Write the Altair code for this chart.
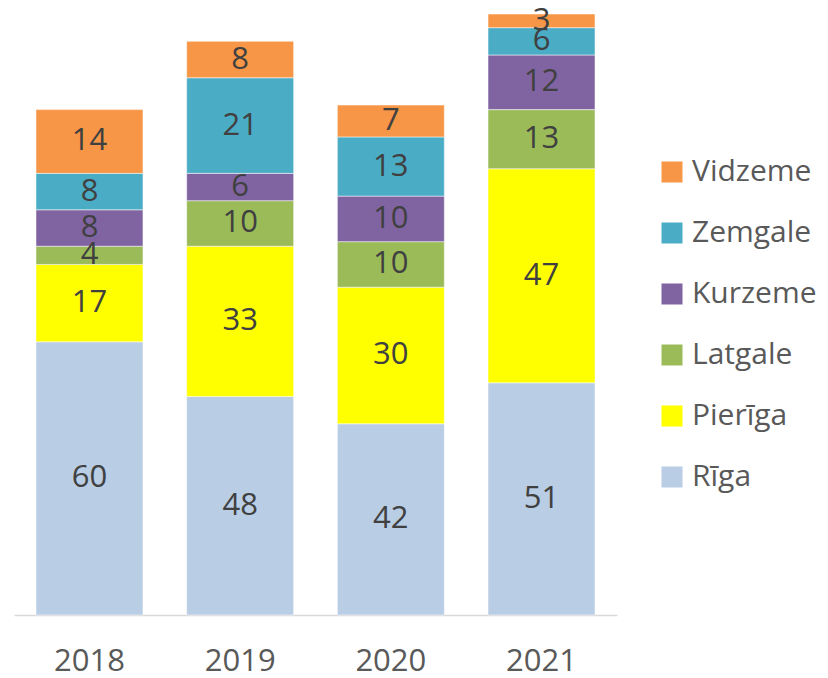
import altair as alt
import pandas as pd

years = ["2018", "2019", "2020", "2021"]
regions = ["Rīga", "Pierīga", "Latgale", "Kurzeme", "Zemgale", "Vidzeme"]
riga = [60, 48, 42, 51]
pieriga = [17, 33, 30, 47]
latgale = [4, 10, 10, 13]
kurzeme = [8, 6, 10, 12]
zemgale = [8, 21, 13, 6]
vidzeme = [14, 8, 7, 3]
colors = ["#B9CDE5", "#FFFF00", "#9BBB59", "#8064A2", "#4BACC6", "#F79646"]

series = [riga, pieriga, latgale, kurzeme, zemgale, vidzeme]
rows = []
for k, (reg, vals) in enumerate(zip(regions, series)):
    for y, v in zip(years, vals):
        rows.append({"year": y, "region": reg, "value": v, "ord": k})
df = pd.DataFrame(rows)

FONT = "Open Sans"
legend_domain = regions[::-1]
legend_colors = colors[::-1]

base = alt.Chart(df)

xenc = alt.X(
    "year:N",
    title=None,
    sort=years,
    scale=alt.Scale(paddingInner=0.29, paddingOuter=0.146),
    axis=alt.Axis(
        labelAngle=0,
        ticks=False,
        grid=False,
        domainColor="#D9D9D9",
        domainWidth=1.5,
        labelFont=FONT,
        labelFontSize=31,
        labelColor="#595959",
        labelPadding=31,
    ),
)

bars = base.mark_bar(stroke="white", strokeWidth=0.5).encode(
    x=xenc,
    y=alt.Y("value:Q", stack="zero", scale=alt.Scale(domain=[0, 132], nice=False), axis=None),
    color=alt.Color(
        "region:N",
        scale=alt.Scale(domain=legend_domain, range=legend_colors),
        legend=alt.Legend(
            title=None,
            orient="none",
            legendX=643,
            legendY=143,
            symbolType="square",
            symbolSize=441,
            symbolStrokeWidth=0,
            labelFont=FONT,
            labelFontSize=30,
            labelColor="#595959",
            labelOffset=5,
            rowPadding=31,
            padding=0,
        ),
    ),
    order=alt.Order("ord:Q", sort="ascending"),
)

labels = (
    base.transform_stack(
        stack="value", as_=["y0", "y1"], groupby=["year"], sort=[alt.SortField("ord", order="ascending")]
    )
    .transform_calculate(mid="(datum.y0 + datum.y1) / 2")
    .mark_text(font=FONT, fontSize=31, color="#404040", baseline="middle", align="center")
    .encode(
        x=alt.X("year:N", sort=years),
        y=alt.Y("mid:Q"),
        text=alt.Text("value:Q"),
    )
)

chart = (
    alt.layer(bars, labels)
    .properties(
        width=603,
        height=601,
        autosize=alt.AutoSizeParams(type="none"),
        padding={"left": 6, "top": 6, "right": 203, "bottom": 62},
    )
    .configure_view(stroke=None)
)

chart.save("out.html", embed_options={"renderer": "svg", "actions": False})
